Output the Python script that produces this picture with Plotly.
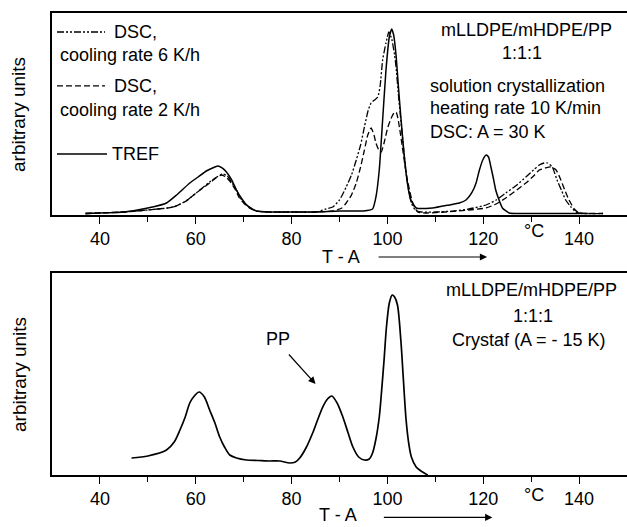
import plotly.graph_objects as go

# ---------------- data ----------------
# Top panel: TREF (solid)
tref_T = [37, 40, 45, 50, 53.9, 56, 58.75, 60.5, 62.2, 63.5, 64.6, 65.5, 66.4, 67.5, 68.5, 69.5,
          70.6, 72.6, 76, 80, 85, 90, 95, 96.9, 97.6, 98.3, 99.0, 99.7, 100.4, 100.9, 101.3, 101.8,
          102.3, 102.8, 103.4, 103.9, 104.4, 104.9, 106, 109.4, 112.9, 115, 116.4, 117.7, 118.5,
          119.2, 119.9, 120.6, 121.1, 121.6, 122.1, 122.6, 123.3, 124, 125.4, 128, 135, 142]
tref_v = [1.5, 2, 3, 7, 12, 20, 32, 38, 44, 47, 49, 47, 43, 35, 25, 17,
          10, 4, 3, 3, 3, 4, 4, 6, 18, 45, 95, 145, 178, 186, 180, 160,
          128, 98, 65, 42, 25, 15, 7, 7, 10, 12, 15, 23, 32,
          45, 55, 60, 58, 48, 37, 25, 15, 7, 2, 1.5, 1.5, 1.5]

# Top panel: DSC, cooling rate 6 K/h (dash-dot)
dsc6_T = [37, 40, 45, 50, 55.3, 58, 60.1, 62.9, 64.4, 65.6, 66.6, 67.6, 68.5, 69.3, 70.4, 71.4,
          72.7, 75, 80, 85.1, 87.2, 88.6, 90, 91.4, 92.5, 93.5, 94.4, 95.2, 96, 96.6, 97.3, 98,
          98.5, 99, 99.7, 100.3, 100.9, 101.5, 101.8, 102.3, 102.8, 103.4, 103.9, 104.4, 105,
          105.8, 107, 110, 114, 117, 120.6, 122.7, 124.7, 127, 128.9, 130.5, 131.7, 132.7, 133.4,
          134.4, 135.4, 136.3, 137.2, 138.3, 139.3, 141, 145]
dsc6_v = [1.5, 2, 3, 5, 8, 14, 22, 33, 38, 41, 39, 32, 25, 17, 11, 7,
          4, 3, 3, 3, 6, 8, 15, 28, 40, 55, 70, 88, 105, 112, 115, 118,
          130, 155, 172, 183, 176, 160, 148, 120, 95, 65, 42, 26, 12,
          5, 3, 3, 4, 6, 10, 15, 22, 30, 38, 45, 50, 52, 52,
          48, 35, 25, 15, 8, 3, 1.5, 1.5]

# Top panel: DSC, cooling rate 2 K/h (dashed)
dsc2_T = [37, 40, 45, 50, 55.3, 58, 60.1, 62.9, 64.2, 65.3, 66.3, 67.4, 68.3, 69.1, 70.2, 71.2,
          72.5, 75, 80, 85, 88.6, 90.5, 91.4, 92.5, 93.5, 94.4, 95.2, 95.9, 96.6, 97.2, 97.6,
          98.2, 98.7, 99.3, 100.1, 100.9, 101.5, 101.9, 102.5, 103.2, 103.9, 104.6, 105.3, 106.3,
          108, 112, 117, 120.6, 122.7, 124.7, 127, 128.9, 130.5, 131.7, 133, 134.1, 135.2, 136.2,
          137, 137.9, 139, 140, 142, 145]
dsc2_v = [1.5, 2, 3, 5, 8, 14, 22, 32, 37, 40, 38, 32, 25, 17, 11, 7,
          4, 3, 3, 3, 4, 7, 12, 20, 32, 48, 65, 80, 87, 80, 72,
          65, 63, 72, 88, 98, 103, 102, 88, 65, 42, 25, 12, 3,
          2, 3, 5, 7, 11, 17, 25, 32, 39, 45, 47, 48, 45, 35,
          25, 15, 6, 2, 1.5, 1.5]

# Bottom panel: Crystaf
cry_T = [46.6, 50, 53.9, 55.5, 56.7, 57.8, 58.75, 59.7, 60.7, 61.8, 62.9, 64, 65, 66, 67.1, 68.5,
         70.6, 73, 75.4, 77.5, 79.6, 80.8, 81.7, 83, 84.4, 85.5, 86.5, 87.5, 88.4, 89.5, 90.7,
         91.8, 92.8, 94, 95.2, 96.2, 96.9, 97.6, 98.3, 98.75, 99.3, 99.8, 100.4, 101, 101.5,
         102.1, 102.8, 103.3, 103.9, 104.5, 105, 106, 107, 108.4]
cry_v = [17, 19, 25, 33, 45, 58, 72, 79, 83, 78, 65, 52, 38, 28, 20, 17,
         15, 14.5, 14, 14, 12, 13, 17, 27, 42, 56, 68, 76, 79, 72, 58,
         42, 28, 18, 15, 16, 22, 36, 58, 82, 115, 148, 172, 180, 178,
         170, 135, 98, 55, 30, 18, 8, 4, 0]

x_ticks = [40, 60, 80, 100, 120, 140]
x_minor = [50, 70, 90, 110, 130, 150]
x_range = [30, 150]

FONT = "Liberation Sans, Arial, sans-serif"
BLK = "black"
DASHDOT = "7px,2px,2px,2px,2px,2px"
DASHED = "6px,3px"

fig = go.Figure()
fig.add_trace(go.Scatter(x=dsc6_T, y=dsc6_v, mode="lines", xaxis="x", yaxis="y",
                         line=dict(color=BLK, width=1.3, dash=DASHDOT,
                                   shape="spline", smoothing=0.5)))
fig.add_trace(go.Scatter(x=dsc2_T, y=dsc2_v, mode="lines", xaxis="x", yaxis="y",
                         line=dict(color=BLK, width=1.3, dash=DASHED,
                                   shape="spline", smoothing=0.5)))
fig.add_trace(go.Scatter(x=tref_T, y=tref_v, mode="lines", xaxis="x", yaxis="y",
                         line=dict(color=BLK, width=1.5, shape="spline", smoothing=0.5)))
fig.add_trace(go.Scatter(x=cry_T, y=cry_v, mode="lines", xaxis="x2", yaxis="y2",
                         line=dict(color=BLK, width=1.7, shape="spline", smoothing=0.8)))


def xaxis(anchor):
    return dict(range=x_range, anchor=anchor, domain=[0, 1], showline=True, linecolor=BLK,
                linewidth=1.5, mirror=True, showgrid=False, zeroline=False,
                tickmode="array", tickvals=x_ticks, ticks="outside", ticklen=7,
                tickwidth=1.3, tickcolor=BLK, tickfont=dict(family=FONT, size=18, color=BLK),
                minor=dict(tickmode="array", tickvals=x_minor,
                           ticks="outside", ticklen=5, tickwidth=1.2, tickcolor=BLK))


def yaxis(anchor, dom):
    return dict(range=[0, 202], anchor=anchor, domain=dom, showline=True, linecolor=BLK,
                linewidth=1.5, showgrid=False, zeroline=False, showticklabels=False,
                ticks="")


fig.update_layout(
    width=627, height=527,
    margin=dict(l=52, r=0, t=13, b=52),
    paper_bgcolor="white", plot_bgcolor="white",
    showlegend=False,
    font=dict(family=FONT, size=18, color=BLK),
    xaxis=xaxis("y"), yaxis=yaxis("x", [0.5628, 1]),
    xaxis2=xaxis("y2"), yaxis2=yaxis("x2", [0, 0.4372]),
)

ann = []


def text(t, x, y, xref, yref, xanchor="left", size=18):
    ann.append(dict(text=t, x=x, y=y, xref=xref, yref=yref, xanchor=xanchor, yanchor="middle",
                    showarrow=False, font=dict(family=FONT, size=size, color=BLK)))


# y titles
for yr in ["y domain", "y2 domain"]:
    ann.append(dict(text="arbitrary units", x=-0.0574, y=0.5, xref="paper", yref=yr,
                    textangle=-90, showarrow=False, xanchor="center", yanchor="middle",
                    font=dict(family=FONT, size=19, color=BLK)))

# top legend
text("DSC,", 0.1043, 0.906, "paper", "y domain")
text("cooling rate 6 K/h", 0.0104, 0.792, "paper", "y domain")
text("DSC,", 0.1043, 0.639, "paper", "y domain")
text("cooling rate 2 K/h", 0.0104, 0.520, "paper", "y domain")
text("TREF", 0.1009, 0.302, "paper", "y domain")

# top right info
text("mLLDPE/mHDPE/PP", 0.826, 0.916, "paper", "y domain", "center")
text("1:1:1", 0.818, 0.802, "paper", "y domain", "center")
text("solution crystallization", 0.654, 0.639, "paper", "y domain")
text("heating rate 10 K/min", 0.654, 0.530, "paper", "y domain")
text("DSC: A = 30 K", 0.654, 0.411, "paper", "y domain")

# bottom right info
text("mLLDPE/mHDPE/PP", 0.834, 0.916, "paper", "y2 domain", "center")
text("1:1:1", 0.836, 0.787, "paper", "y2 domain", "center")
text("Crystaf (A = - 15 K)", 0.830, 0.668, "paper", "y2 domain", "center")

# degree C labels and T - A titles with arrows
text("°C", 130.6, -0.08, "x", "y domain", "center")
text("°C", 130.6, -0.10, "x2", "y2 domain", "center")
text("T - A", 90.4, -0.208, "x", "y domain", "center")
text("T - A", 89.6, -0.198, "x2", "y2 domain", "center")
for xr, yr, xh, yy in [("x", "y domain", 120.8, -0.208), ("x2", "y2 domain", 121.9, -0.21)]:
    ann.append(dict(text="", x=xh, y=yy, xref=xr, yref=yr, ax=-110, ay=0,
                    axref="pixel", ayref="pixel", showarrow=True, arrowhead=2,
                    arrowsize=1.2, arrowwidth=1.2, arrowcolor=BLK))

# PP label with arrow
text("PP", 77.1, 136, "x2", "y2", "center")
ann.append(dict(text="", x=85.0, y=91, xref="x2", yref="y2", ax=-28, ay=-31,
                axref="pixel", ayref="pixel", showarrow=True, arrowhead=2,
                arrowsize=1.2, arrowwidth=1.2, arrowcolor=BLK))

fig.update_layout(annotations=ann)

# legend sample lines
shapes = [
    dict(type="line", xref="paper", yref="y domain", x0=0.0087, x1=0.0922, y0=0.906, y1=0.906,
         line=dict(color=BLK, width=1.3, dash=DASHDOT)),
    dict(type="line", xref="paper", yref="y domain", x0=0.0087, x1=0.0922, y0=0.639, y1=0.639,
         line=dict(color=BLK, width=1.3, dash=DASHED)),
    dict(type="line", xref="paper", yref="y domain", x0=0.0087, x1=0.0957, y0=0.302, y1=0.302,
         line=dict(color=BLK, width=1.5)),
]
fig.update_layout(shapes=shapes)

fig.write_html("out.html")
